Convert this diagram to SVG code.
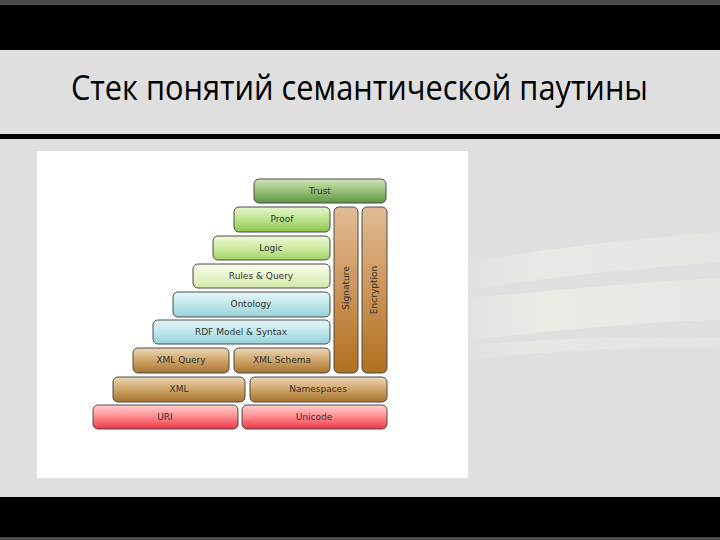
<svg xmlns="http://www.w3.org/2000/svg" width="720" height="540" viewBox="0 0 720 540">
<defs>
<linearGradient id="gTrust" x1="0" y1="0" x2="0" y2="1"><stop offset="0" stop-color="#cfe6ba"/><stop offset="0.5" stop-color="#96c078"/><stop offset="1" stop-color="#5f9440"/></linearGradient>
<linearGradient id="gProof" x1="0" y1="0" x2="0" y2="1"><stop offset="0" stop-color="#e6f6cc"/><stop offset="0.5" stop-color="#bde28c"/><stop offset="1" stop-color="#8cc44c"/></linearGradient>
<linearGradient id="gLogic" x1="0" y1="0" x2="0" y2="1"><stop offset="0" stop-color="#eef9d6"/><stop offset="0.5" stop-color="#cdeaa0"/><stop offset="1" stop-color="#a2d262"/></linearGradient>
<linearGradient id="gRules" x1="0" y1="0" x2="0" y2="1"><stop offset="0" stop-color="#f8fcea"/><stop offset="0.5" stop-color="#e8f4cc"/><stop offset="1" stop-color="#d2e8a8"/></linearGradient>
<linearGradient id="gOnt" x1="0" y1="0" x2="0" y2="1"><stop offset="0" stop-color="#e6f6f6"/><stop offset="0.5" stop-color="#c0e6ea"/><stop offset="1" stop-color="#96d2da"/></linearGradient>
<linearGradient id="gTan" x1="0" y1="0" x2="0" y2="1"><stop offset="0" stop-color="#ecd8b8"/><stop offset="0.5" stop-color="#cfa468"/><stop offset="1" stop-color="#a87430"/></linearGradient>
<linearGradient id="gRed" x1="0" y1="0" x2="0" y2="1"><stop offset="0" stop-color="#ffd0d0"/><stop offset="0.5" stop-color="#ff8a8e"/><stop offset="1" stop-color="#ec3444"/></linearGradient>
<linearGradient id="gCol" x1="0" y1="0" x2="0" y2="1"><stop offset="0" stop-color="#e2bc94"/><stop offset="0.5" stop-color="#cc9458"/><stop offset="1" stop-color="#b0701e"/></linearGradient>
<linearGradient id="gStreak" x1="0" y1="0" x2="1" y2="0"><stop offset="0" stop-color="#fffff0" stop-opacity="0.2"/><stop offset="0.3" stop-color="#fffff2" stop-opacity="0.85"/><stop offset="1" stop-color="#fffff0" stop-opacity="0.5"/></linearGradient>
<style>
.box{stroke:#4a4a4a;stroke-width:1}
.lbl{font-family:"DejaVu Sans","Liberation Sans",sans-serif;font-size:9px;fill:#333;text-anchor:middle}
</style>
</defs>
<!-- slide background -->
<rect x="0" y="0" width="720" height="540" fill="#dfdfdf"/>
<rect x="0" y="0" width="720" height="5" fill="#4a4a4a"/>
<rect x="0" y="5" width="720" height="45" fill="#000"/>
<rect x="0" y="134" width="720" height="5" fill="#000"/>
<rect x="0" y="497" width="720" height="40" fill="#000"/>
<rect x="0" y="537" width="720" height="3" fill="#4a4a4a"/>
<!-- decorative streaks -->
<path d="M468 262 C540 250 620 240 720 232 L720 262 C620 270 540 278 468 290 Z" fill="url(#gStreak)" opacity="0.35"/>
<path d="M468 298 C560 290 640 282 720 278 L720 320 C640 322 560 330 468 340 Z" fill="url(#gStreak)" opacity="0.45"/>
<path d="M468 345 C560 338 640 336 720 338 L720 348 C640 346 560 350 468 360 Z" fill="url(#gStreak)" opacity="0.3"/>
<text x="71" y="100" font-family="'Open Sans','Noto Sans',sans-serif" font-size="34" fill="#000" textLength="577" lengthAdjust="spacingAndGlyphs">Стек понятий семантической паутины</text>
<!-- white panel -->
<rect x="37" y="151" width="431" height="327" fill="#fff"/>
<g id="trust"><rect class="box" x="254" y="179" width="132" height="24" rx="5" fill="url(#gTrust)"/><text class="lbl" x="320" y="194">Trust</text></g>
<g id="proof"><rect class="box" x="234" y="207" width="96" height="25" rx="5" fill="url(#gProof)"/><text class="lbl" x="282" y="222">Proof</text></g>
<g id="logic"><rect class="box" x="213" y="236" width="117" height="24" rx="5" fill="url(#gLogic)"/><text class="lbl" x="271" y="251">Logic</text></g>
<g id="rules"><rect class="box" x="193" y="264" width="137" height="24" rx="5" fill="url(#gRules)"/><text class="lbl" x="261" y="279">Rules &amp; Query</text></g>
<g id="ontology"><rect class="box" x="173" y="292" width="157" height="25" rx="5" fill="url(#gOnt)"/><text class="lbl" x="251" y="307">Ontology</text></g>
<g id="rdf"><rect class="box" x="153" y="320" width="177" height="24" rx="5" fill="url(#gOnt)"/><text class="lbl" x="241" y="335">RDF Model &amp; Syntax</text></g>
<g id="xmlquery"><rect class="box" x="133" y="348" width="96" height="25" rx="5" fill="url(#gTan)"/><text class="lbl" x="181" y="363">XML Query</text></g>
<g id="xmlschema"><rect class="box" x="234" y="348" width="96" height="25" rx="5" fill="url(#gTan)"/><text class="lbl" x="282" y="363">XML Schema</text></g>
<g id="xml"><rect class="box" x="113" y="377" width="132" height="25" rx="5" fill="url(#gTan)"/><text class="lbl" x="179" y="392">XML</text></g>
<g id="namespaces"><rect class="box" x="250" y="377" width="137" height="25" rx="5" fill="url(#gTan)"/><text class="lbl" x="318" y="392">Namespaces</text></g>
<g id="uri"><rect class="box" x="93" y="405" width="145" height="24" rx="5" fill="url(#gRed)"/><text class="lbl" x="165" y="420">URI</text></g>
<g id="unicode"><rect class="box" x="242" y="405" width="145" height="24" rx="5" fill="url(#gRed)"/><text class="lbl" x="314" y="420">Unicode</text></g>
<g id="signature"><rect class="box" x="334" y="207" width="24" height="166" rx="5" fill="url(#gCol)"/><text class="lbl" transform="translate(349 288) rotate(-90)">Signature</text></g>
<g id="encryption"><rect class="box" x="362" y="207" width="25" height="166" rx="5" fill="url(#gCol)"/><text class="lbl" transform="translate(377 290) rotate(-90)">Encryption</text></g>
<g id="connectors"/>
</svg>
